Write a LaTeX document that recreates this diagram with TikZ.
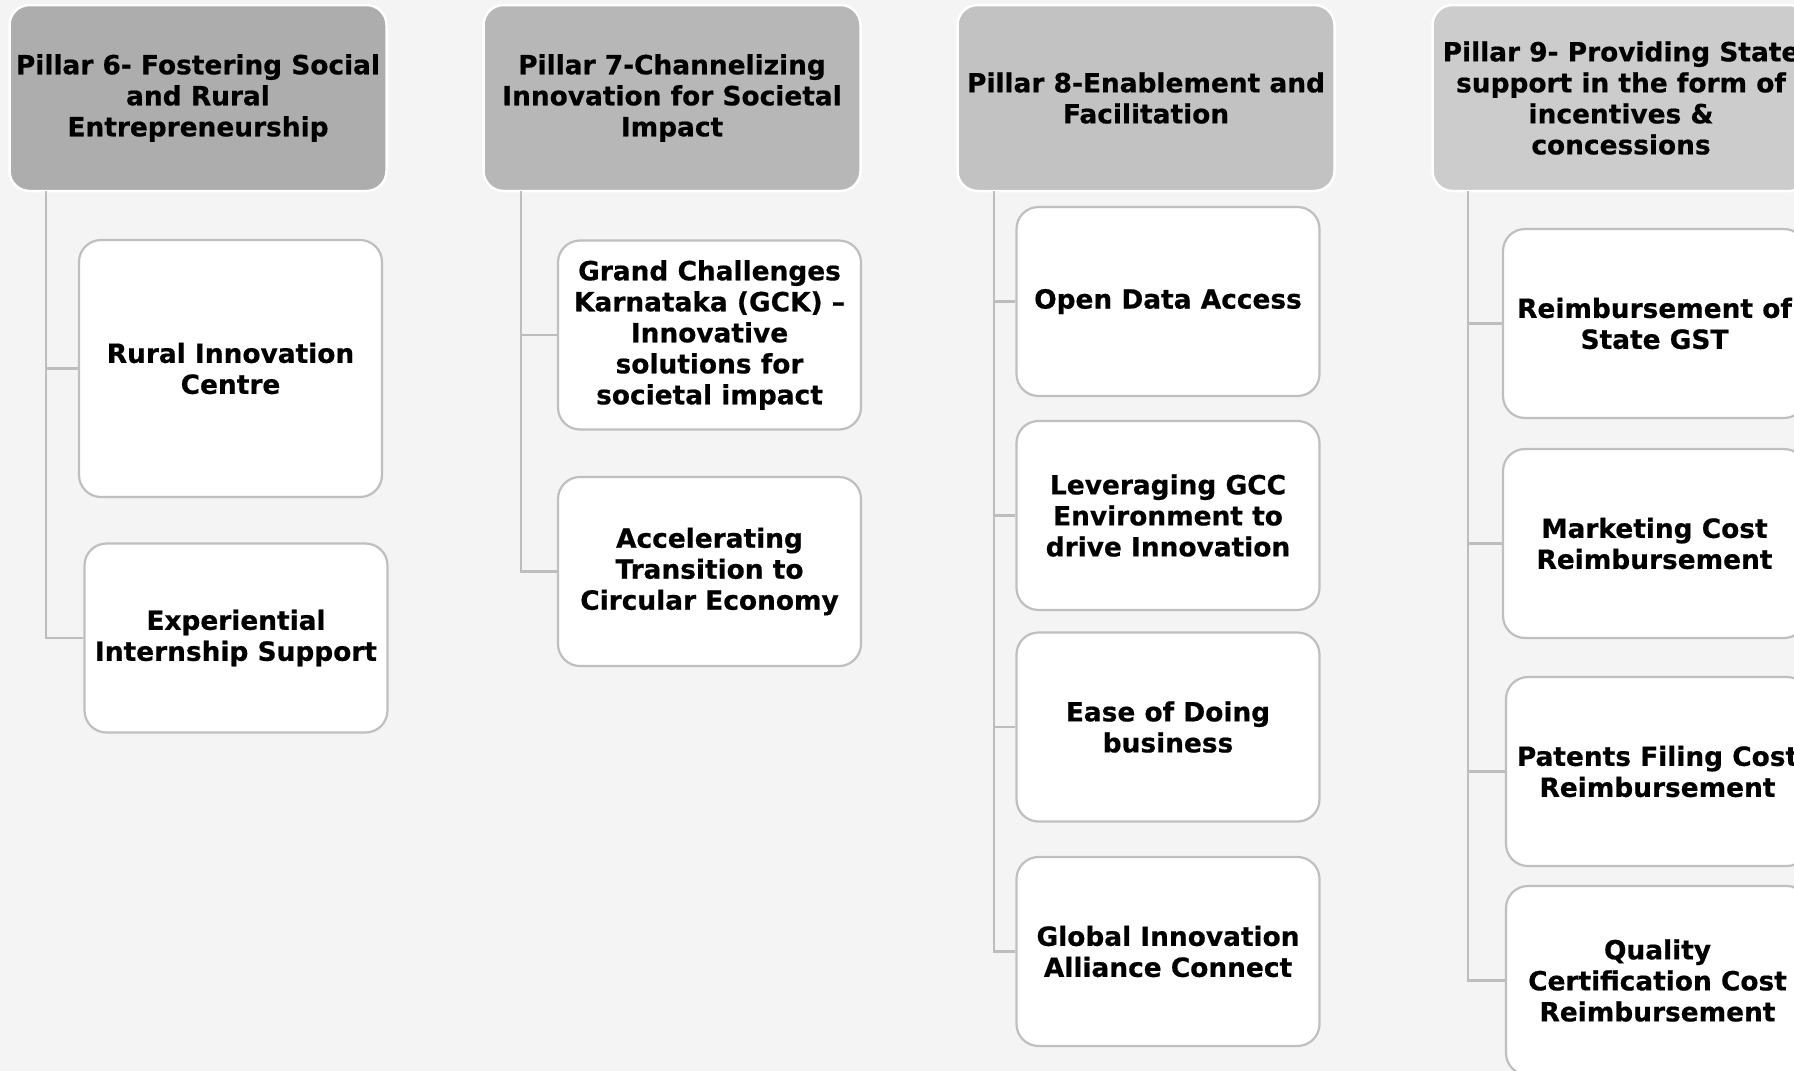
\documentclass[tikz,border=0pt]{standalone}
\usepackage{fontspec}
\setmainfont{DejaVu Sans}[BoldFeatures={FakeBold=0.6}]

\definecolor{pagegray}{HTML}{F4F4F4}
\definecolor{pillarsix}{HTML}{ADADAD}
\definecolor{pillarseven}{HTML}{B7B7B7}
\definecolor{pillareight}{HTML}{C2C2C2}
\definecolor{pillarnine}{HTML}{CCCCCC}
\definecolor{boxline}{HTML}{BFBFBF}
\definecolor{linkgray}{HTML}{BDBDBD}

\tikzset{
    pillar/.style={draw=white, line width=2.5pt, rounded corners=20pt,
        minimum width=377pt, minimum height=186pt, align=center,
        font=\bfseries\fontsize{26.4}{31}\selectfont},
    item/.style={draw=boxline, fill=white, line width=2.2pt, rounded corners=22pt,
        minimum width=303pt, minimum height=189pt, align=center,
        font=\bfseries\fontsize{26.4}{31}\selectfont},
    link/.style={draw=linkgray, line width=2.5pt}
}

\begin{document}
\begin{tikzpicture}[x=1pt, y=-1pt]
    % page
    \useasboundingbox (0, 0) rectangle (1794, 1071);
    \clip (0, 0) rectangle (1794, 1071);
    \fill[pagegray] (0, 0) rectangle (1794, 1071);

    % pillar headers
    \node[pillar, fill=pillarsix] (p6) at (198, 98) {Pillar 6- Fostering Social\\and Rural\\Entrepreneurship};
    \node[pillar, fill=pillarseven] (p7) at (672, 98) {Pillar 7-Channelizing\\Innovation for Societal\\Impact};
    \node[pillar, fill=pillareight] (p8) at (1146, 98) {Pillar 8-Enablement and\\Facilitation};
    \node[pillar, fill=pillarnine] (p9) at (1621, 98) {Pillar 9- Providing State\\support in the form of\\incentives \&\\concessions};

    % stems under the headers
    \coordinate (p6stem) at (46, 191);
    \coordinate (p7stem) at (521, 191);
    \coordinate (p8stem) at (994, 191);
    \coordinate (p9stem) at (1468, 191);

    % pillar 6 items
    \node[item, minimum height=257pt] (rural) at (230.5, 368.5) {Rural Innovation\\Centre};
    \node[item] (intern) at (236, 638) {Experiential\\Internship Support};

    % pillar 7 items
    \node[item] (gck) at (709.5, 335) {Grand Challenges\\Karnataka (GCK) –\\Innovative\\solutions for\\societal impact};
    \node[item] (circular) at (709.5, 571.5) {Accelerating\\Transition to\\Circular Economy};

    % pillar 8 items
    \node[item] (opendata) at (1168, 301.5) {Open Data Access};
    \node[item] (gcc) at (1168, 515.5) {Leveraging GCC\\Environment to\\drive Innovation};
    \node[item] (ease) at (1168, 727) {Ease of Doing\\business};
    \node[item] (global) at (1168, 951.5) {Global Innovation\\Alliance Connect};

    % pillar 9 items
    \node[item] (gst) at (1654.5, 323.5) {Reimbursement of\\State GST};
    \node[item] (marketing) at (1654.5, 543.5) {Marketing Cost\\Reimbursement};
    \node[item] (patents) at (1657.5, 771.5) {Patents Filing Cost\\Reimbursement};
    \node[item] (quality) at (1657.5, 980.5) {Quality\\Certification Cost\\Reimbursement};

    % connectors
    \foreach \child in {rural, intern}
        \draw[link] (p6stem) |- (\child.west);
    \foreach \child in {gck, circular}
        \draw[link] (p7stem) |- (\child.west);
    \foreach \child in {opendata, gcc, ease, global}
        \draw[link] (p8stem) |- (\child.west);
    \foreach \child in {gst, marketing, patents, quality}
        \draw[link] (p9stem) |- (\child.west);
\end{tikzpicture}
\end{document}
